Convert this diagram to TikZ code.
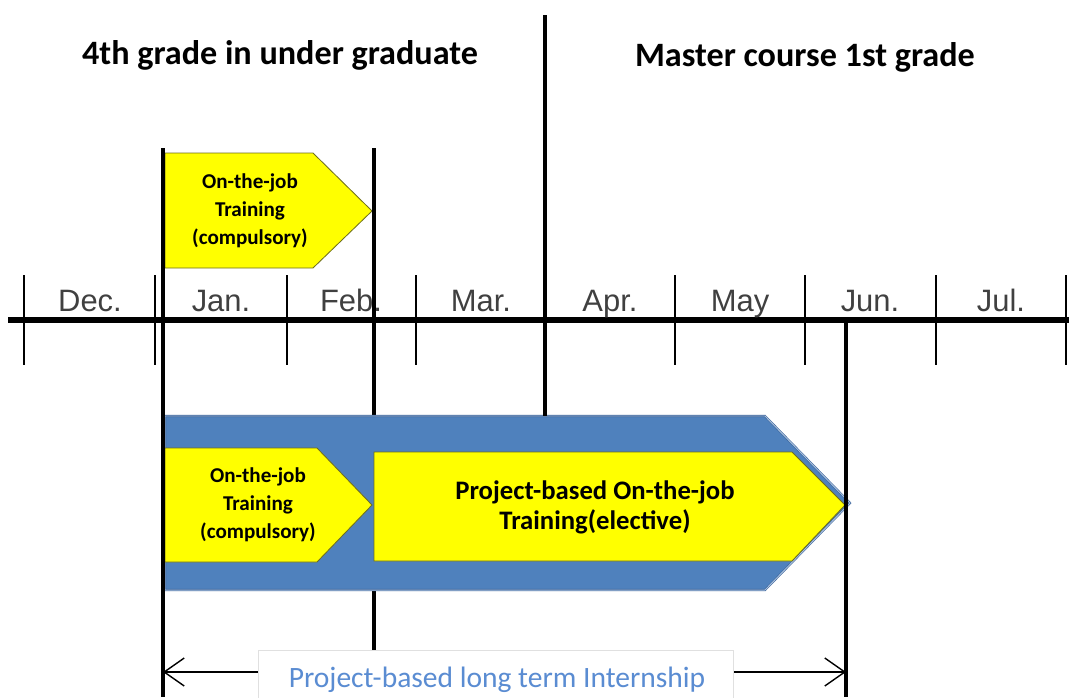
\documentclass[tikz,border=0pt]{standalone}
\usepackage{fontspec}
\setmainfont{Carlito}
\newfontfamily\arialfont{Liberation Sans}
\usetikzlibrary{arrows.meta}
\definecolor{ojtyellow}{HTML}{FFFF00}
\definecolor{ojtedge}{HTML}{6E6E1E}
\definecolor{pblblue}{HTML}{4F81BD}
\definecolor{pbledge}{HTML}{3A639A}
\definecolor{pbllight}{HTML}{A9C0DD}
\definecolor{spanblue}{HTML}{5A8CD2}

\begin{document}
\begin{tikzpicture}[x=0.025cm, y=-0.025cm,
    heading/.style={font=\bfseries\fontsize{24.3}{29}\selectfont},
    month/.style={anchor=base, font=\arialfont\fontsize{22}{26}\selectfont, text=black!75},
    ojt/.style={fill=ojtyellow, draw=ojtedge, line width=0.6pt, line join=miter},
    ojttext/.style={align=center, font=\bfseries\fontsize{15}{20}\selectfont},
    tick/.style={line width=1.3pt},
    bar/.style={line width=2.5pt}]
  \useasboundingbox (0,0) rectangle (1069,697);

  % Headings
  \node [heading] (under) at (280,55) {4th grade in under graduate};
  \node [heading] (master) at (805,57) {Master course 1st grade};

  % Upper training block
  \draw [ojt] (165,153) -- (313,153) -- (372,211) -- (313,268) -- (165,268) -- cycle;
  \node [ojttext] (ojtup) at (250,211) {On-the-job\\Training\\(compulsory)};

  % Timeline and ticks
  \draw [line width=4.3pt] (8,320) -- (1069,320);
  \draw [tick] (24,275) -- (24,365)   (155,275) -- (155,365)
               (287,275) -- (287,365) (416,275) -- (416,365)
               (675,275) -- (675,365) (805,275) -- (805,365)
               (936,275) -- (936,365) (1066,275) -- (1066,365);

  % Months
  \node [month] (dec) at (90,311) {Dec.};
  \node [month] (jan) at (221,311) {Jan.};
  \node [month] (feb) at (351,311) {Feb.};
  \node [month] (mar) at (481,311) {Mar.};
  \node [month] (apr) at (610,311) {Apr.};
  \node [month] (may) at (740,311) {May};
  \node [month] (jun) at (870,311) {Jun.};
  \node [month] (jul) at (1001,311) {Jul.};

  % February bar (behind the internship block)
  \draw [bar] (374,148) -- (374,650);

  % Internship block
  \draw [fill=pblblue, draw=pbledge, double=pbllight, double distance=0.7pt]
        (165,416) -- (765,416) -- (850,503) -- (765,590) -- (165,590) -- cycle;
  \draw [ojt] (165,448) -- (317,448) -- (372,505) -- (317,562) -- (165,562) -- cycle;
  \node [ojttext] (ojtlow) at (258,505) {On-the-job\\Training\\(compulsory)};
  \draw [ojt] (374,452) -- (792,452) -- (845,505) -- (792,561) -- (374,561) -- cycle;
  \node [align=center, font=\bfseries\fontsize{19}{21.5}\selectfont] (pbl) at (595,507)
        {Project-based On-the-job\\Training(elective)};

  % Bars
  \draw [line width=3.5pt] (545,15) -- (545,416);
  \draw [bar] (163,148) -- (163,697);
  \draw [bar] (846,320) -- (846,697);

  % Internship span
  \coordinate (spanl) at (163,672);
  \coordinate (spanr) at (846,672);
  \draw [line width=1pt, {Straight Barb[length=0.5cm,width=0.7cm]}-{Straight Barb[length=0.5cm,width=0.7cm]}]
        (spanl) -- (spanr);
  \draw [fill=white, draw=black!12, line width=0.4pt] (258,650) rectangle (733,710);
  \node [text=spanblue, font=\fontsize{21}{25}\selectfont] (span) at (497,680)
        {Project-based long term Internship};
\end{tikzpicture}
\end{document}
